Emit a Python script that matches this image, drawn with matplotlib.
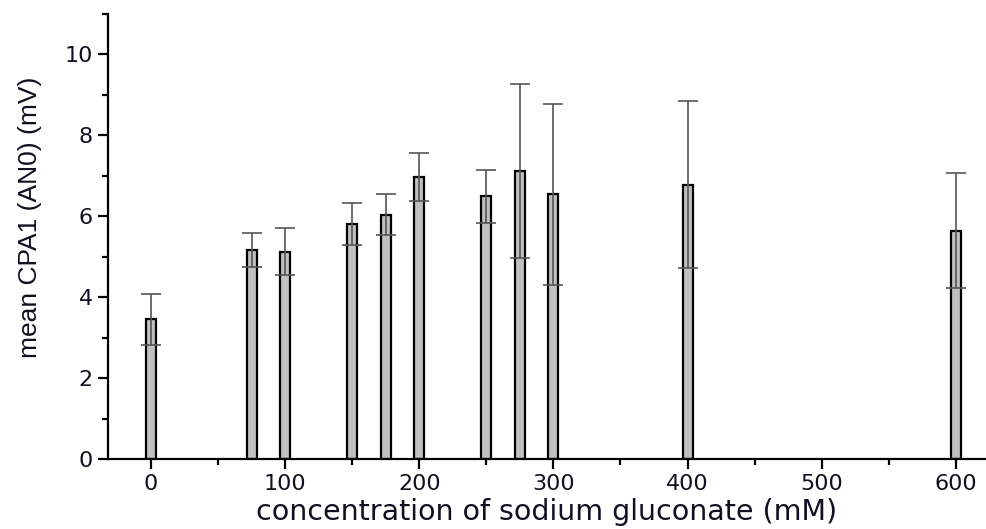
import matplotlib
matplotlib.use("Agg")
import matplotlib.pyplot as plt
from matplotlib.ticker import MultipleLocator

# sodium gluconate concentration (mM) vs mean CPA1 signal
conc = [0, 75, 100, 150, 175, 200, 250, 275, 300, 400, 600]
mean_mv = [3.46, 5.16, 5.12, 5.80, 6.04, 6.97, 6.49, 7.13, 6.54, 6.78, 5.64]
err_mv = [0.63, 0.42, 0.58, 0.52, 0.50, 0.59, 0.65, 2.15, 2.23, 2.06, 1.42]

fig = plt.figure(figsize=(9.87, 5.29), dpi=100)
ax = fig.add_axes([0.1094, 0.1323, 0.889, 0.8412])

ax.bar(conc, mean_mv, width=7.5, color="#c0c0c0", edgecolor="black",
       linewidth=1.6, zorder=2)
ax.errorbar(conc, mean_mv, yerr=err_mv, fmt="none", ecolor="#555555",
            elinewidth=1.2, capsize=7, capthick=1.2, zorder=3)

ax.set_xlim(-32, 622)
ax.set_ylim(0, 11)
ax.xaxis.set_major_locator(MultipleLocator(100))
ax.xaxis.set_minor_locator(MultipleLocator(50))
ax.yaxis.set_major_locator(MultipleLocator(2))
ax.yaxis.set_minor_locator(MultipleLocator(1))

for side in ("top", "right"):
    ax.spines[side].set_visible(False)
for side in ("left", "bottom"):
    ax.spines[side].set_linewidth(1.6)

ax.tick_params(which="major", direction="out", length=7, width=1.6,
               labelsize=16, pad=4, labelcolor="#101020")
ax.tick_params(which="minor", direction="out", length=4, width=1.6)
for lab in ax.get_xticklabels() + ax.get_yticklabels():
    lab.set_family("DejaVu Sans")

ax.set_xlabel("concentration of sodium gluconate (mM)", fontsize=20.5,
              family="DejaVu Sans", color="#101020")
ax.xaxis.set_label_coords(0.5, -0.088)
ax.set_ylabel("mean CPA1 (AN0) (mV)", fontsize=19, family="Liberation Sans",
              color="#101020")
ax.yaxis.set_label_coords(-0.075, 0.544)

fig.savefig("out.png", dpi=100)
